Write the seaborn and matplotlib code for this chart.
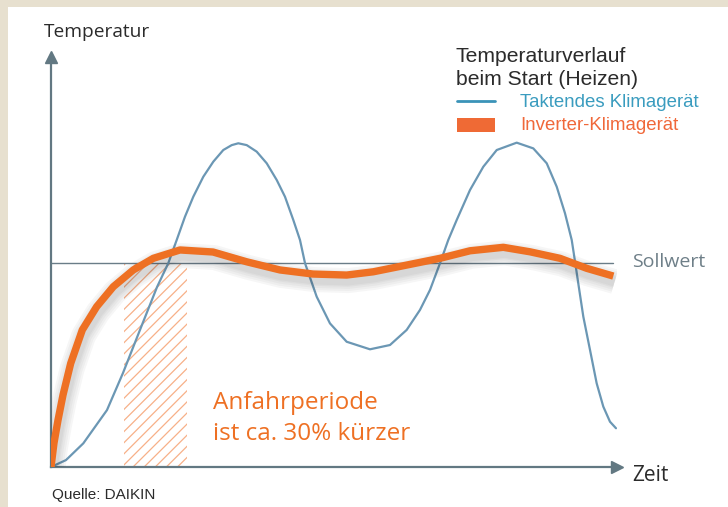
import numpy as np
import matplotlib
matplotlib.use("Agg")
import matplotlib.pyplot as plt
import matplotlib.patheffects as pe
from matplotlib.patches import Rectangle
from matplotlib.lines import Line2D
import seaborn as sns

# time axis 0..100, temperature axis with set point = 100
taktend_t = [0, 2.65, 5.71, 9.89, 12.72, 15.72, 18.73, 20.72, 22.21, 23.67, 25.14,
             26.91, 28.68, 30.44, 31.93, 33.09, 34.58, 36.34, 38.11, 39.88, 41.34,
             42.81, 43.99, 44.88, 46.94, 49.29, 52.24, 56.36, 59.89, 62.84, 65.19,
             66.96, 68.73, 70.19, 71.68, 74.03, 76.38, 78.75, 82.28, 85.21, 87.58,
             89.35, 90.81, 92.00, 92.63, 93.16, 94.05, 95.23, 96.41, 97.58, 98.76,
             99.82]
taktend_T = [0, 3.4, 11.6, 27.9, 46.1, 67.2, 88.2, 99.9, 111.3, 122.7, 132.5,
             142.3, 149.7, 155.4, 157.8, 158.7, 157.8, 154.6, 148.9, 140.7, 132.5,
             121.1, 111.3, 99.9, 83.5, 70.4, 61.4, 57.7, 59.8, 67.2, 77.0,
             86.8, 99.9, 111.3, 121.1, 135.8, 147.2, 155.4, 159.0, 156.2, 148.9,
             137.4, 124.4, 111.3, 99.9, 90.0, 73.7, 57.4, 41.0, 29.6, 22.2,
             19.0]

inverter_t = [0, 0.53, 1.24, 2.12, 3.48, 5.53, 8.07, 11.01, 14.54, 18.07, 22.79,
              28.62, 34.58, 40.46, 46.29, 52.24, 56.94, 62.84, 68.73, 74.03, 79.91,
              84.63, 89.93, 94.65, 99.35]
inverter_T = [0, 11.8, 23.0, 35.3, 50.8, 67.2, 78.6, 88.4, 96.6, 102.3, 106.4,
              105.4, 100.6, 96.6, 94.6, 94.1, 95.7, 99.0, 102.3, 106.0, 107.7,
              105.5, 102.3, 97.4, 93.6]

sollwert = 100
anfahr_start, anfahr_end = 12.9, 24.0

legend_title = "Temperaturverlauf\nbeim Start (Heizen)"
labels = ["Taktendes Klimagerät", "Inverter-Klimagerät"]

sns.set_theme(style="white")
plt.rcParams["hatch.linewidth"] = 0.9

W, H = 728, 507
fig = plt.figure(figsize=(W / 100, H / 100), dpi=100)
fig.patch.set_facecolor("#e7e0cf")
fig.patches.append(Rectangle((8 / W, 0), 1, 1 - 7 / H, transform=fig.transFigure,
                             facecolor="white", edgecolor="none", zorder=-5))

def px(x, y):
    return x / W, 1 - y / H

orange = "#ee7023"
blue = "#6b97b4"
axis_col = "#627882"

ax = fig.add_axes([51 / W, 40 / H, 566 / W, 410 / H])
ax.patch.set_visible(False)
ax.set_xlim(0, 100)
ax.set_ylim(0, 201)

# hatched start-up period
ax.fill_between([anfahr_start, anfahr_end], 0, sollwert, facecolor="none",
                edgecolor="#f7b088", hatch="///", linewidth=0, zorder=1)

ax.axhline(sollwert, xmin=0, xmax=99.3 / 100, color="#6a7d88", lw=1.0, zorder=2)

sns.lineplot(x=taktend_t, y=taktend_T, sort=False, ax=ax, color=blue, lw=1.6, zorder=3,
             solid_joinstyle="round")
# soft shadow under the inverter curve
shadow = [pe.SimpleLineShadow(offset=(1, -4), shadow_color="k", alpha=0.035, linewidth=w)
          for w in (18, 15, 12, 9, 7)] + [pe.Normal()]
sns.lineplot(x=inverter_t, y=inverter_T, sort=False, ax=ax, color=orange, lw=5.3, zorder=4,
             solid_joinstyle="round", solid_capstyle="butt", path_effects=shadow)

for s in ["top", "right"]:
    ax.spines[s].set_visible(False)
for s in ["left", "bottom"]:
    ax.spines[s].set_color(axis_col)
    ax.spines[s].set_linewidth(1.6)
ax.set_xticks([])
ax.set_yticks([])
ax.plot(1, 0, ">", color=axis_col, ms=9, transform=ax.transAxes, clip_on=False)
ax.plot(0, 1, "^", color=axis_col, ms=9, transform=ax.transAxes, clip_on=False)

fs = ["Open Sans", "DejaVu Sans"]
hs = ["Liberation Sans", "DejaVu Sans"]

fig.text(*px(44, 37), "Temperatur", family=fs, fontsize=13.8, color="#2b2b2b", va="baseline")
fig.text(*px(632, 481), "Zeit", family=fs, fontsize=15, color="#2b2b2b", va="baseline")
fig.text(*px(632, 267), "Sollwert", family=fs, fontsize=14, color="#6e7f88", va="baseline")
fig.text(*px(213, 409), "Anfahrperiode", family=fs, fontsize=17.5, color=orange, va="baseline")
fig.text(*px(213, 440), "ist ca. 30% kürzer", family=fs, fontsize=17.5, color=orange, va="baseline")
fig.text(*px(52, 499), "Quelle: DAIKIN", family=hs, fontsize=11, color="#2b2b2b", va="baseline")

# legend
t1, t2 = legend_title.split("\n")
fig.text(*px(456, 62), t1, family=hs, fontsize=15.2, color="#2b2b2b", va="baseline")
fig.text(*px(456, 85), t2, family=hs, fontsize=15.2, color="#2b2b2b", va="baseline")
x0, y0 = px(457, 101)
x1, _ = px(495, 101)
fig.lines.append(Line2D([x0, x1], [y0, y0], transform=fig.transFigure, color="#3a93b8", lw=2))
fig.text(*px(520, 107), labels[0], family=hs, fontsize=13.4, color="#3a9cbf", va="baseline")
rx, ry = px(457, 132)
fig.patches.append(Rectangle((rx, ry), 38 / W, 14 / H, transform=fig.transFigure,
                             facecolor="#ef6a35", edgecolor="none"))
fig.text(*px(520, 130), labels[1], family=hs, fontsize=13.4, color="#f0683a", va="baseline")

fig.savefig("out.png", dpi=100, facecolor=fig.get_facecolor())
